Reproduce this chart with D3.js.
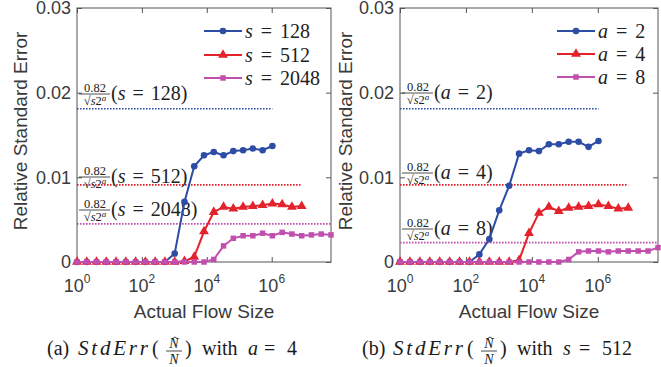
<!DOCTYPE html>
<html>
<head>
<meta charset="utf-8">
<script src="https://cdn.jsdelivr.net/npm/d3@7"></script>
<style>
  body { margin: 0; background: #fff; }
  svg { display: block; }
  .tick line { stroke: #555; }
  .domain { display: none; }
</style>
</head>
<body>
<div id="chart"></div>
<script>
// flow sizes are powers of two: 2^0 ... 2^26
var sizeExp = [0,1,2,3,4,5,6,7,8,9,10,11,12,13,14,15,16,17,18,19,20,21,22,23,24,25,26];

// (a) a = 4, varying s
var errS128  = [0,0,0,0,0,0,0,0,0,0,0.0010,0.0071,0.0113,0.0126,0.0130,0.0126,0.0131,0.0132,0.0134,0.0132,0.0137];
var errS512  = [0,0,0,0,0,0,0,0,0,0,0,0.0001,0.0006,0.0036,0.0059,0.0065,0.0063,0.0065,0.0066,0.0067,0.0069,0.0068,0.0065,0.0066];
var errS2048 = [0,0,0,0,0,0,0,0,0,0,0,0,0,0,0.0003,0.0019,0.0028,0.0031,0.0031,0.0034,0.0031,0.0035,0.0033,0.0031,0.0032,0.0033,0.0032];
var boundsS  = [0.0181, 0.0091, 0.0045];
var namesS   = ["128", "512", "2048"];

// (b) s = 512, varying a
var errA2 = [0,0,0,0,0,0,0,0,0.0009,0.0027,0.0061,0.0090,0.0128,0.0132,0.0131,0.0139,0.0139,0.0142,0.0142,0.0136,0.0143];
var errA4 = [0,0,0,0,0,0,0,0,0,0,0,0,0.0002,0.0034,0.0058,0.0065,0.0060,0.0064,0.0065,0.0066,0.0068,0.0066,0.0063,0.0064];
var errA8 = [0,0,0,0,0,0,0,0,0,0,0,0,0,0,0,0,0,0.0003,0.0012,0.0013,0.0013,0.0012,0.0013,0.0013,0.0013,0.0013,0.0017];
var boundsA = [0.0181, 0.0091, 0.0023];
var namesA  = ["2", "4", "8"];

var yTicks = [0, 0.01, 0.02, 0.03];
var xTicks = [0, 2, 4, 6];  // powers of ten

var colors = ["#2d4ca6", "#e4222b", "#c04fae"];
var symbols = [d3.symbolCircle, d3.symbolTriangle, d3.symbolSquare];
var symSize = [34, 42, 30];

var svg = d3.select("#chart").append("svg")
  .attr("width", 661)
  .attr("height", 367);

var serif = "'Liberation Serif', 'Times New Roman', serif";
var sans = "'Liberation Sans', Arial, sans-serif";

function drawPanel(p) {
  var x = d3.scaleLog().domain([1, Math.pow(2, 26)]).range([p.left, p.right]);
  var y = d3.scaleLinear().domain([0, 0.03]).range([262, 8]);
  var g = svg.append("g");

  // ticks all round (inward)
  g.append("g").attr("transform", "translate(0,262)")
    .call(d3.axisBottom(x).tickValues(xTicks.map(e => Math.pow(10, e))).tickSize(-5).tickFormat(""));
  g.append("g").attr("transform", "translate(0,8)")
    .call(d3.axisTop(x).tickValues(xTicks.map(e => Math.pow(10, e))).tickSize(-5).tickFormat(""));
  g.append("g").attr("transform", `translate(${p.left},0)`)
    .call(d3.axisLeft(y).tickValues(yTicks).tickSize(-5).tickPadding(6)
      .tickFormat(d => d === 0 ? "0" : d3.format(".2f")(d)))
    .selectAll("text")
    .attr("font-family", sans).attr("font-size", 18).attr("fill", "#3a3a3a");
  g.append("g").attr("transform", `translate(${p.right},0)`)
    .call(d3.axisRight(y).tickValues(yTicks).tickSize(-5).tickFormat(""));

  g.append("rect")
    .attr("x", p.left).attr("y", 8)
    .attr("width", p.right - p.left).attr("height", 254)
    .attr("fill", "none").attr("stroke", "#555").attr("stroke-width", 1);

  // x tick labels 10^n
  xTicks.forEach(function(e) {
    var t = g.append("text")
      .attr("x", x(Math.pow(10, e))).attr("y", 292)
      .attr("text-anchor", "middle")
      .attr("font-family", sans).attr("fill", "#3a3a3a");
    t.append("tspan").attr("font-size", 18).text("10");
    t.append("tspan").attr("font-size", 12).attr("dy", -9).text(e);
  });

  g.append("text")
    .attr("x", (p.left + p.right) / 2).attr("y", 318)
    .attr("text-anchor", "middle")
    .attr("font-family", sans).attr("font-size", 19).attr("fill", "#3a3a3a")
    .text("Actual Flow Size");

  g.append("text")
    .attr("transform", `translate(${p.ylab},131) rotate(-90)`)
    .attr("text-anchor", "middle")
    .attr("font-family", sans).attr("font-size", 19).attr("fill", "#3a3a3a")
    .text("Relative Standard Error");

  // theoretical bounds, dotted
  p.bounds.forEach(function(b, i) {
    g.append("line")
      .attr("x1", p.left).attr("x2", x(Math.pow(2, p.series[i].length - 1)))
      .attr("y1", y(b)).attr("y2", y(b))
      .attr("stroke", colors[i]).attr("stroke-width", 1.7)
      .attr("stroke-dasharray", "1.6,1.4");
  });

  // bound annotations
  p.bounds.forEach(function(b, i) {
    var yb = p.annY[i], x0 = p.left + 2;
    var a = g.append("g").attr("fill", "#222").attr("font-family", serif);
    a.append("text").attr("x", x0 + 16).attr("y", yb - 2.5)
      .attr("text-anchor", "middle").attr("font-size", 12.5).text("0.82");
    a.append("line").attr("x1", x0).attr("x2", x0 + 31)
      .attr("y1", yb).attr("y2", yb).attr("stroke", "#222").attr("stroke-width", 0.8);
    var d = a.append("text").attr("x", x0 + 16).attr("y", yb + 11)
      .attr("text-anchor", "middle").attr("font-size", 12.5);
    d.append("tspan").text("\u221A");
    d.append("tspan").attr("font-style", "italic").text("s");
    d.append("tspan").text("2");
    d.append("tspan").attr("font-style", "italic").attr("font-size", 9).attr("dy", -4).text("a");
    var t = a.append("text").attr("x", x0 + 32).attr("y", yb + 6)
      .attr("font-size", 20).attr("word-spacing", 2);
    t.append("tspan").text("(");
    t.append("tspan").attr("font-style", "italic").text(p.varName);
    t.append("tspan").text(" = " + p.names[i] + ")");
  });

  // series
  p.series.forEach(function(vals, i) {
    var pts = vals.map((v, k) => [x(Math.pow(2, sizeExp[k])), y(v)]);
    g.append("path")
      .attr("d", d3.line()(pts))
      .attr("fill", "none").attr("stroke", colors[i]).attr("stroke-width", 2);
    g.selectAll(null).data(pts).enter().append("path")
      .attr("transform", d => `translate(${d[0]},${d[1]})`)
      .attr("d", d3.symbol().type(symbols[i]).size(symSize[i]))
      .attr("fill", colors[i]);
  });

  // legend
  p.names.forEach(function(n, i) {
    var ly = p.legY[i];
    g.append("line")
      .attr("x1", p.legX).attr("x2", p.legX + 38)
      .attr("y1", ly).attr("y2", ly)
      .attr("stroke", colors[i]).attr("stroke-width", 2);
    g.append("path")
      .attr("transform", `translate(${p.legX + 19},${ly})`)
      .attr("d", d3.symbol().type(symbols[i]).size(symSize[i]))
      .attr("fill", colors[i]);
    var t = g.append("text").attr("x", p.legX + 41).attr("y", ly + 7)
      .attr("font-family", serif).attr("font-size", 20).attr("fill", "#222")
      .attr("word-spacing", 3);
    t.append("tspan").attr("font-style", "italic").text(p.varName);
    t.append("tspan").text(" = " + n);
  });

  // caption
  var c = svg.append("g").attr("font-family", serif).attr("fill", "#1a1a1a").attr("font-size", 20);
  var cx = p.capX;
  c.append("text").attr("x", cx).attr("y", 355).text(p.capTag);
  c.append("text").attr("x", cx + 31).attr("y", 355).attr("font-style", "italic")
    .attr("font-size", 21)
    .attr("textLength", 70).attr("lengthAdjust", "spacing").text("StdErr");
  c.append("text").attr("x", cx + 105).attr("y", 355).text("(");
  c.append("text").attr("x", cx + 127).attr("y", 348).attr("text-anchor", "middle")
    .attr("font-size", 14).attr("font-style", "italic").text("N");
  c.append("path")
    .attr("d", `M${cx + 125},${339} L${cx + 128},${337} L${cx + 131},${339}`)
    .attr("fill", "none").attr("stroke", "#1a1a1a").attr("stroke-width", 0.8);
  c.append("line").attr("x1", cx + 119).attr("x2", cx + 135)
    .attr("y1", 351).attr("y2", 351).attr("stroke", "#1a1a1a").attr("stroke-width", 0.8);
  c.append("text").attr("x", cx + 127).attr("y", 364).attr("text-anchor", "middle")
    .attr("font-size", 14).attr("font-style", "italic").text("N");
  c.append("text").attr("x", cx + 138).attr("y", 355).text(")");
  c.append("text").attr("x", cx + 155).attr("y", 355).text("with");
  c.append("text").attr("x", cx + 201).attr("y", 355).attr("font-style", "italic").text(p.capVar);
  c.append("text").attr("x", cx + 217).attr("y", 355).text("=");
  c.append("text").attr("x", cx + 240).attr("y", 355).text(p.capVal);
}

drawPanel({
  left: 77, right: 331, ylab: 27,
  series: [errS128, errS512, errS2048],
  bounds: boundsS, names: namesS, varName: "s",
  annY: [94, 177, 210],
  legX: 204, legY: [31, 55, 78],
  capX: 47, capTag: "(a)", capVar: "a", capVal: "4"
});

drawPanel({
  left: 400, right: 658, ylab: 352,
  series: [errA2, errA4, errA8],
  bounds: boundsA, names: namesA, varName: "a",
  annY: [93, 173, 229],
  legX: 557, legY: [31, 54, 77],
  capX: 362, capTag: "(b)", capVar: "s", capVal: "512"
});
</script>
</body>
</html>
